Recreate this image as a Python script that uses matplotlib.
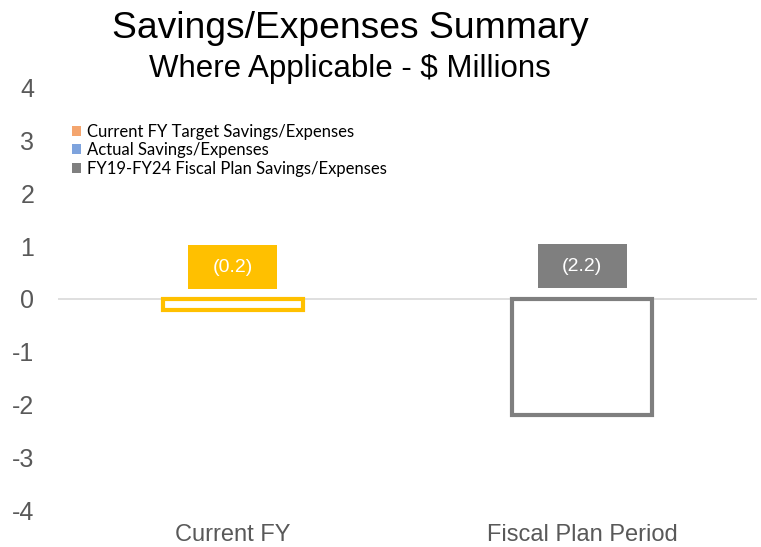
import matplotlib.pyplot as plt
from matplotlib.patches import Patch
import numpy as np

plt.rcParams['font.family'] = ['Liberation Sans', 'DejaVu Sans']

categories = ['Current FY', 'Fiscal Plan Period']
values = [-0.2, -2.2]
value_labels = ['(0.2)', '(2.2)']
label_y = [0.6, 0.62]
bar_colors = ['#FFC000', '#7F7F7F']

legend_labels = ['Current FY Target Savings/Expenses',
                 'Actual Savings/Expenses',
                 'FY19-FY24 Fiscal Plan Savings/Expenses']
legend_colors = ['#F4A56E', '#7EA3DD', '#7F7F7F']

yticks = [-4, -3, -2, -1, 0, 1, 2, 3, 4]

W, H = 761, 547
fig = plt.figure(figsize=(W / 100, H / 100), dpi=100)
ax = fig.add_axes([58 / W, 1 - 510 / H, (757 - 58) / W, (510 - 88) / H])

x = np.arange(len(categories))
ax.bar(x, values, width=0.4, color='white', edgecolor=bar_colors,
       linewidth=3.0, zorder=3)
ax.axhline(0, color='#D9D9D9', linewidth=1.2, zorder=2)

# data label boxes
box_h = 0.83
ax.bar(x, [box_h] * len(x), bottom=np.array(label_y) - box_h / 2, width=0.255,
       color=bar_colors, edgecolor='none', zorder=4)
for xi, ly, txt in zip(x, label_y, value_labels):
    ax.text(xi, ly, txt, ha='center', va='center', color='white', fontsize=14,
            zorder=5)

ax.set_xlim(-0.5, 1.5)
ax.set_ylim(-4, 4)
ax.set_yticks(yticks)
ax.set_yticklabels([str(t) for t in yticks])
ax.set_xticks(x)
ax.set_xticklabels(categories)
ax.tick_params(axis='both', length=0, colors='#595959')
ax.tick_params(axis='y', labelsize=18, pad=17)
ax.tick_params(axis='x', labelsize=17, pad=10)
for s in ax.spines.values():
    s.set_visible(False)

handles = [Patch(facecolor=c, edgecolor='none') for c in legend_colors]
leg = ax.legend(handles, legend_labels, loc='upper left',
                bbox_to_anchor=(0.01, 0.93), frameon=False,
                prop={'family': 'Lato', 'size': 12},
                handlelength=0.55, handleheight=0.55,
                handletextpad=0.4, labelspacing=0.13, borderaxespad=0)

fig.text(350 / W, 1 - 28 / H, 'Savings/Expenses Summary', ha='center',
         va='center', fontsize=26.8, color='black')
fig.text(350 / W, 1 - 69 / H, 'Where Applicable - $ Millions', ha='center',
         va='center', fontsize=22.5, color='black')

fig.savefig('out.png', dpi=100)
